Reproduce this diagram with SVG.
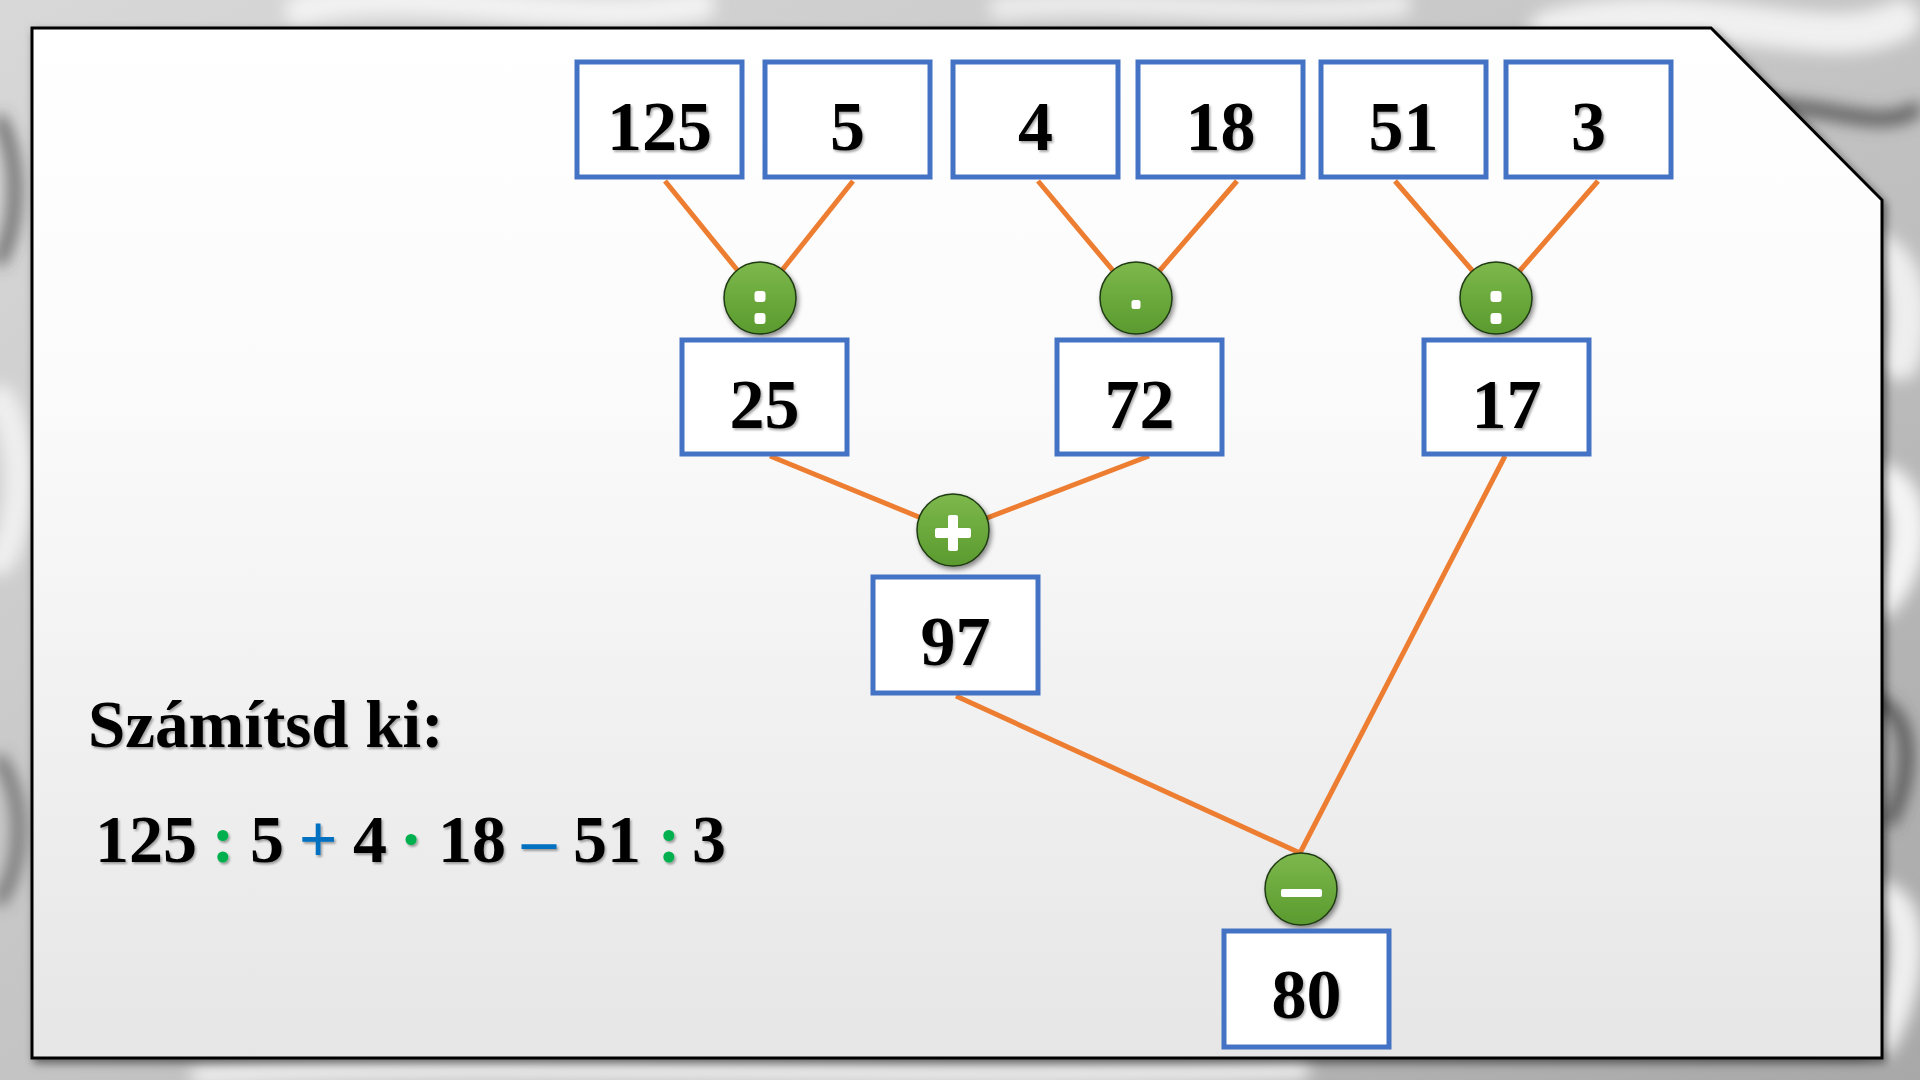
<svg xmlns="http://www.w3.org/2000/svg" width="1920" height="1080" viewBox="0 0 1920 1080">
<defs>
  <style>
    .box{fill:#ffffff;stroke:#4472C4;stroke-width:5}
    .num{font-family:"Liberation Serif","Times New Roman",serif;font-weight:bold;font-size:70px;fill:#000;text-anchor:middle}
    .conn line{stroke:#ED7D31;stroke-width:5;stroke-linecap:butt}
    .op{fill:url(#gg);stroke:#1f3a12;stroke-width:1.5}
    .sym{fill:#ffffff}
    .title{font-family:"Liberation Serif","Times New Roman",serif;font-weight:bold;font-size:67px;fill:#000}
    .expr{font-family:"Liberation Serif","Times New Roman",serif;font-weight:bold;font-size:68px;fill:#000;text-anchor:middle}
    .g{fill:#00B050}
    .b{fill:#0070C0}
  </style>
  <linearGradient id="gg" x1="0" y1="0" x2="0" y2="1">
    <stop offset="0" stop-color="#7DB84C"/>
    <stop offset="1" stop-color="#5A9A2E"/>
  </linearGradient>
  <linearGradient id="panel" x1="0" y1="0" x2="0" y2="1">
    <stop offset="0" stop-color="#ffffff"/>
    <stop offset="0.35" stop-color="#fbfbfb"/>
    <stop offset="1" stop-color="#e6e6e6"/>
  </linearGradient>
  <linearGradient id="bg" x1="0" y1="0" x2="1" y2="1">
    <stop offset="0" stop-color="#d8d8d8"/>
    <stop offset="0.5" stop-color="#c4c4c4"/>
    <stop offset="1" stop-color="#a8a8a8"/>
  </linearGradient>
  <filter id="blur" x="-20%" y="-20%" width="140%" height="140%"><feGaussianBlur stdDeviation="8"/></filter>
  <filter id="sh" x="-30%" y="-30%" width="160%" height="160%"><feDropShadow dx="2" dy="3" stdDeviation="2.5" flood-color="#000" flood-opacity="0.45"/></filter>
  <filter id="tsh" x="-10%" y="-10%" width="120%" height="130%"><feDropShadow dx="1.5" dy="2" stdDeviation="1.2" flood-color="#000" flood-opacity="0.35"/></filter>
  <filter id="psh" x="-5%" y="-5%" width="110%" height="110%"><feDropShadow dx="3" dy="4" stdDeviation="4" flood-color="#000" flood-opacity="0.5"/></filter>
</defs>

<!-- background photo approximation -->
<rect x="0" y="0" width="1920" height="1080" fill="url(#bg)"/>
<g filter="url(#blur)" fill="none" stroke-linecap="round">
  <path d="M300 10 C 420 -20, 560 30, 700 5" stroke="#f2f2f2" stroke-width="30"/>
  <path d="M1550 30 C 1700 -10, 1820 60, 1900 20" stroke="#f0f0f0" stroke-width="40"/>
  <path d="M1700 120 C 1790 80, 1870 140, 1915 110" stroke="#555" stroke-width="14"/>
  <path d="M1830 250 C 1900 230, 1920 300, 1900 360" stroke="#eeeeee" stroke-width="40"/>
  <path d="M1860 480 C 1920 470, 1920 560, 1880 600" stroke="#f4f4f4" stroke-width="36"/>
  <path d="M1850 700 C 1910 690, 1920 760, 1890 820" stroke="#444" stroke-width="12"/>
  <path d="M1860 900 C 1920 880, 1915 980, 1880 1040" stroke="#efefef" stroke-width="34"/>
  <path d="M0 120 C 20 160, 20 220, 0 260" stroke="#444" stroke-width="10"/>
  <path d="M0 400 C 25 440, 25 520, 0 560" stroke="#efefef" stroke-width="30"/>
  <path d="M0 760 C 25 800, 25 860, 0 900" stroke="#555" stroke-width="10"/>
  <path d="M200 1075 C 500 1060, 900 1080, 1300 1070" stroke="#eeeeee" stroke-width="20"/>
  <path d="M1000 8 C 1150 -5, 1250 20, 1400 5" stroke="#ededed" stroke-width="22"/>
</g>

<!-- panel -->
<path d="M32 28 L1711 28 L1882 200 L1882 1058 L32 1058 Z" fill="url(#panel)" stroke="#000" stroke-width="3" filter="url(#psh)"/>

<!-- connectors -->
<g id="connectors" class="conn">
  <line x1="665" y1="181" x2="760" y2="298"/>
  <line x1="853" y1="181" x2="760" y2="298"/>
  <line x1="1038" y1="181" x2="1136" y2="298"/>
  <line x1="1237" y1="181" x2="1136" y2="298"/>
  <line x1="1395" y1="181" x2="1496" y2="298"/>
  <line x1="1598" y1="181" x2="1496" y2="298"/>
  <line x1="770" y1="456" x2="953" y2="531"/>
  <line x1="1149" y1="456" x2="953" y2="531"/>
  <line x1="956" y1="696" x2="1300" y2="853"/>
  <line x1="1505" y1="456" x2="1300" y2="853"/>
</g>

<!-- top row -->
<g id="n125"><rect class="box" x="577" y="62" width="165" height="115"/><text class="num" x="659.5" y="150" filter="url(#tsh)">125</text></g>
<g id="n5"><rect class="box" x="765" y="62" width="165" height="115"/><text class="num" x="847.5" y="150" filter="url(#tsh)">5</text></g>
<g id="n4"><rect class="box" x="953" y="62" width="165" height="115"/><text class="num" x="1035.5" y="150" filter="url(#tsh)">4</text></g>
<g id="n18"><rect class="box" x="1138" y="62" width="165" height="115"/><text class="num" x="1220.5" y="150" filter="url(#tsh)">18</text></g>
<g id="n51"><rect class="box" x="1321" y="62" width="165" height="115"/><text class="num" x="1403.5" y="150" filter="url(#tsh)">51</text></g>
<g id="n3"><rect class="box" x="1506" y="62" width="165" height="115"/><text class="num" x="1588.5" y="150" filter="url(#tsh)">3</text></g>

<!-- operators row 1 -->
<g id="op-div1" filter="url(#sh)"><circle class="op" cx="760" cy="298" r="36"/>
  <rect class="sym" x="754.5" y="291" width="11" height="11" rx="3"/><rect class="sym" x="754.5" y="313" width="11" height="11" rx="3"/></g>
<g id="op-mul" filter="url(#sh)"><circle class="op" cx="1136" cy="298" r="36"/>
  <rect class="sym" x="1131.5" y="300" width="9" height="9" rx="2.5"/></g>
<g id="op-div2" filter="url(#sh)"><circle class="op" cx="1496" cy="298" r="36"/>
  <rect class="sym" x="1490.5" y="291" width="11" height="11" rx="3"/><rect class="sym" x="1490.5" y="313" width="11" height="11" rx="3"/></g>

<!-- middle row -->
<g id="n25"><rect class="box" x="682" y="340" width="165" height="114"/><text class="num" x="764.5" y="428" filter="url(#tsh)">25</text></g>
<g id="n72"><rect class="box" x="1057" y="340" width="165" height="114"/><text class="num" x="1139.5" y="428" filter="url(#tsh)">72</text></g>
<g id="n17"><rect class="box" x="1424" y="340" width="165" height="114"/><text class="num" x="1506.5" y="428" filter="url(#tsh)">17</text></g>

<!-- plus -->
<g id="op-plus" filter="url(#sh)"><circle class="op" cx="953" cy="530" r="36"/>
  <rect class="sym" x="935" y="528" width="36" height="10" rx="2"/><rect class="sym" x="948" y="515" width="10" height="36" rx="2"/></g>

<g id="n97"><rect class="box" x="873" y="577" width="165" height="116"/><text class="num" x="955.5" y="665" filter="url(#tsh)">97</text></g>

<!-- minus -->
<g id="op-minus" filter="url(#sh)"><circle class="op" cx="1301" cy="889" r="36"/>
  <rect class="sym" x="1281" y="889" width="41" height="8" rx="2"/></g>

<g id="n80"><rect class="box" x="1224" y="931" width="165" height="116"/><text class="num" x="1306.5" y="1018" filter="url(#tsh)">80</text></g>

<!-- task text -->
<g id="task" filter="url(#tsh)">
  <text class="title" x="88" y="747">Számítsd ki:</text>
  <text class="expr" y="862"><tspan x="146">125</tspan><tspan class="g" x="223">:</tspan><tspan x="267">5</tspan><tspan class="b" x="318">+</tspan><tspan x="370">4</tspan><tspan class="g" x="411">·</tspan><tspan x="472">18</tspan><tspan class="b" x="539">–</tspan><tspan x="607">51</tspan><tspan class="g" x="669">:</tspan><tspan x="709">3</tspan></text>
</g>
</svg>
